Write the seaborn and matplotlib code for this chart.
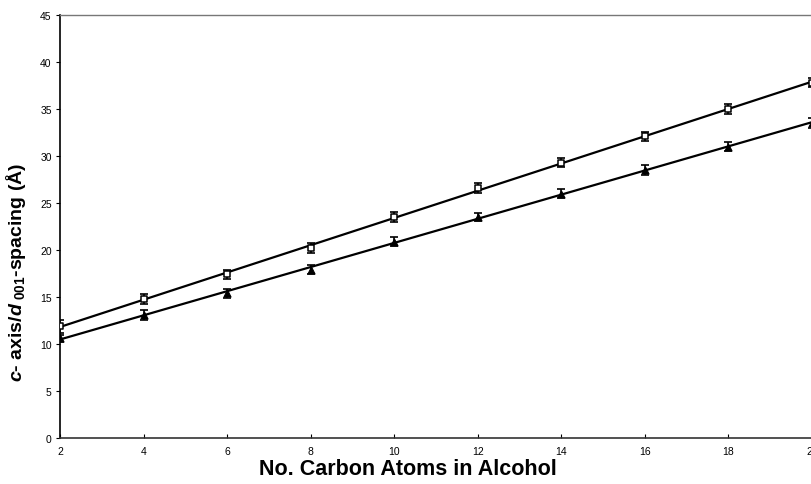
import numpy as np
import matplotlib
matplotlib.use('Agg')
import matplotlib.pyplot as plt
import seaborn as sns

# data
carbons = [2, 4, 6, 8, 10, 12, 14, 16, 18, 20]
c_axis = [11.9, 14.8, 17.4, 20.2, 23.5, 26.6, 29.3, 32.1, 35.0, 37.8]
c_err = [0.7, 0.5, 0.5, 0.5, 0.5, 0.5, 0.5, 0.5, 0.5, 0.5]
d001 = [10.6, 13.1, 15.4, 17.9, 20.9, 23.5, 26.0, 28.5, 31.0, 33.5]
d_err = [0.4, 0.5, 0.5, 0.5, 0.5, 0.4, 0.5, 0.5, 0.5, 0.5]

sns.set_style('white')
plt.rcParams['font.family'] = ['Liberation Sans', 'DejaVu Sans']
plt.rcParams['text.color'] = 'black'
plt.rcParams['axes.labelcolor'] = 'black'
plt.rcParams['mathtext.fontset'] = 'custom'
plt.rcParams['mathtext.it'] = 'Liberation Sans:italic:bold'
plt.rcParams['mathtext.rm'] = 'Liberation Sans:bold'
plt.rcParams['mathtext.bf'] = 'Liberation Sans:bold'

fig = plt.figure(figsize=(8.12, 4.85), dpi=100)
ax = fig.add_axes([60 / 812, 46 / 485, 752 / 812, 423 / 485])

# fitted lines
sns.regplot(x=carbons, y=c_axis, ci=None, scatter=False, ax=ax,
            line_kws=dict(color='black', lw=1.6))
sns.regplot(x=carbons, y=d001, ci=None, scatter=False, ax=ax,
            line_kws=dict(color='black', lw=1.6))

# error bars
ax.errorbar(carbons, c_axis, yerr=c_err, fmt='none', ecolor='black',
            elinewidth=1.2, capsize=3, capthick=1.2, zorder=3)
ax.errorbar(carbons, d001, yerr=d_err, fmt='none', ecolor='black',
            elinewidth=1.2, capsize=3, capthick=1.2, zorder=3)

# markers
sns.scatterplot(x=carbons, y=c_axis, marker='s', s=24, facecolor='white',
                edgecolor='black', linewidth=1.1, ax=ax, zorder=4)
sns.scatterplot(x=carbons, y=d001, marker='^', s=26, color='black',
                edgecolor='black', linewidth=0.8, ax=ax, zorder=4)

ax.set_xlim(2, 20)
ax.set_ylim(0, 45)
ax.set_xticks(range(2, 21, 2))
ax.set_yticks(range(0, 46, 5))
ax.tick_params(axis='x', direction='in', length=3, labelsize=7.5, pad=6, colors='black')
ax.tick_params(axis='y', direction='out', length=3, labelsize=7.5, pad=3, colors='black')
ax.tick_params(left=True, bottom=True)

ax.set_xlabel('No. Carbon Atoms in Alcohol', fontsize=15.5, fontweight='bold')
ax.set_ylabel(r'$\mathit{c}$- axis/$\mathit{d}$$_{\ \mathrm{001}}$-spacing (Å)',
              fontsize=14, fontweight='bold')
ax.xaxis.set_label_coords(0.462, -0.047)
ax.yaxis.set_label_coords(-0.043, 0.395)

ax.spines['left'].set_color('black')
ax.spines['left'].set_linewidth(1.2)
ax.spines['bottom'].set_color('#333333')
ax.spines['bottom'].set_linewidth(1.2)
ax.spines['top'].set_color('#777777')
ax.spines['top'].set_linestyle((0, (2, 1)))
ax.spines['top'].set_linewidth(1.0)
ax.spines['right'].set_visible(False)

fig.savefig('out.png', dpi=100)
